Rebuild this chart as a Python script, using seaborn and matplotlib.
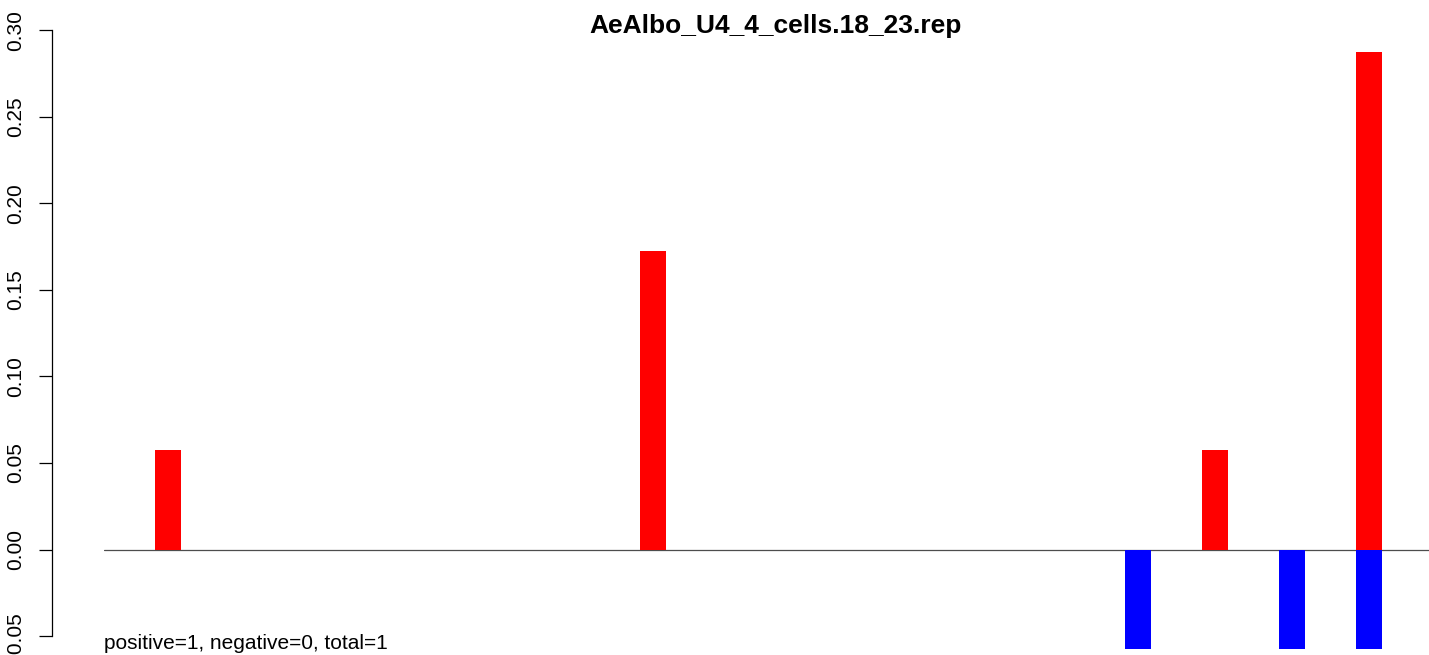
import numpy as np
import pandas as pd
import matplotlib
matplotlib.use("Agg")
import matplotlib.pyplot as plt
import seaborn as sns

# ---- data ----
title = "AeAlbo_U4_4_cells.18_23.rep"
positions = [10, 73, 136, 146, 156, 166]
positive_vals = [0.0575, 0.1725, 0.0, 0.0575, 0.0, 0.2875]
negative_vals = [0.0, 0.0, -0.0575, 0.0, -0.0575, -0.0575]
yticks = [-0.05, 0.00, 0.05, 0.10, 0.15, 0.20, 0.25, 0.30]
ytick_labels = ["-0.05", "0.00", "0.05", "0.10", "0.15", "0.20", "0.25", "0.30"]
note = "positive=1, negative=0, total=1"

sns.set_style("white")
plt.rcParams["font.family"] = ["Liberation Sans", "DejaVu Sans"]
plt.rcParams["text.color"] = "black"
plt.rcParams["ytick.color"] = "black"
plt.rcParams["ytick.labelcolor"] = "black"

df = pd.DataFrame({
    "pos": positions * 2,
    "value": positive_vals + negative_vals,
    "sign": ["positive"] * len(positions) + ["negative"] * len(positions),
})

W, H = 1429, 655
fig = plt.figure(figsize=(W / 100, H / 100), dpi=100)
ax_left, ax_right = 103.7, 1432
ax_top, ax_bottom = 28, 673
ax = fig.add_axes([ax_left / W, 1 - ax_bottom / H, (ax_right - ax_left) / W, (ax_bottom - ax_top) / H])

sns.barplot(data=df, x="pos", y="value", hue="sign",
            palette={"positive": "#FF0000", "negative": "#0000FF"},
            native_scale=True, dodge=False, width=26 / 77, errorbar=None,
            saturation=1, linewidth=0, legend=False, ax=ax)

unit = 7.7  # px per position unit
ax.set_xlim(10 - (168 - ax_left) / unit, 10 + (ax_right - 168) / unit)
ax.set_ylim(-0.0713, 0.3013)
ax.axhline(0, color="#4d4d4d", lw=0.9, zorder=0)

for s in ["top", "right", "bottom"]:
    ax.spines[s].set_visible(False)
ax.spines["left"].set_position(("outward", (ax_left - 52) * 0.72))
ax.spines["left"].set_bounds(-0.05, 0.30)
ax.spines["left"].set_color("black")
ax.spines["left"].set_linewidth(0.9)
ax.xaxis.set_visible(False)
ax.set_ylabel("")
ax.set_yticks(yticks)
ax.set_yticklabels(ytick_labels, rotation=90, va="center", color="black")
ax.tick_params(axis="y", length=9.6, width=0.9, color="black", pad=10,
               labelsize=15, left=True, labelcolor="black")
ax.grid(False)

fig.text(776 / W, 1 - 32.7 / H, title, ha="center", va="baseline",
         fontsize=19, fontweight="bold", color="black")
fig.text(ax_left / W, 1 - 649 / H, note, ha="left", va="baseline", fontsize=15,
         color="black")

fig.savefig("out.png", dpi=100, facecolor="white")
